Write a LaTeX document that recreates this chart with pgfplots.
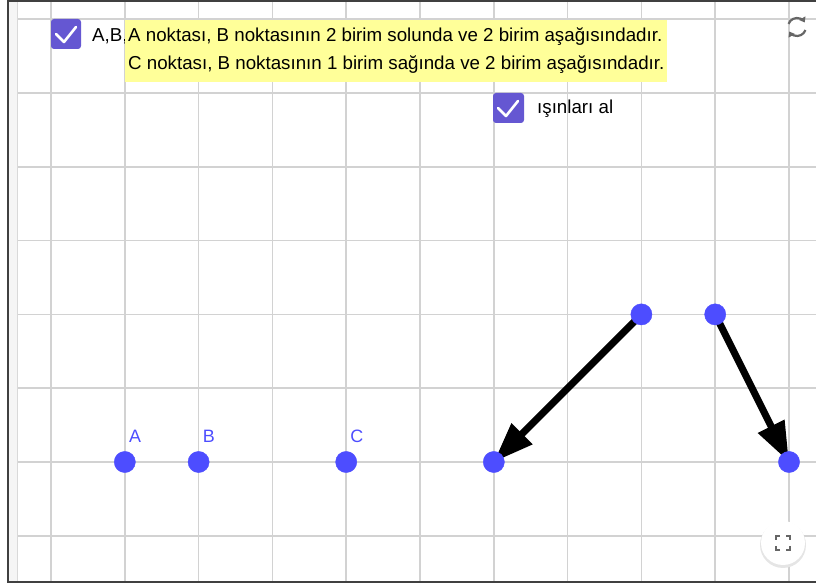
\documentclass[border=0pt]{standalone}
\usepackage{pgfplots}
\pgfplotsset{compat=1.18}
\usepackage{fontspec}
\setmainfont{Liberation Sans}
\usetikzlibrary{arrows.meta}
\definecolor{ggblue}{RGB}{77,77,255}
\definecolor{ggpurple}{RGB}{101,87,210}
\definecolor{gridgray}{RGB}{210,210,210}
\definecolor{noteyellow}{RGB}{255,255,153}
\definecolor{iconGray}{RGB}{102,102,102}
\pgfplotstableread{
x y
1 0
2 0
4 0
6 0
8 2
9 2
10 0
}\points
\begin{document}
\begin{tikzpicture}
\begin{axis}[
  scale only axis, width=816bp, height=585bp,
  xmin=-0.69106, xmax=10.36585, ymin=-1.66667, ymax=6.26016,
  xtick={0,...,10}, ytick={-1,...,6},
  xticklabels={}, yticklabels={},
  major tick length=0pt,
  grid=major, major grid style={gridgray, line width=1.5bp},
  axis line style={draw=none},
  clip=false,
]
\addplot[black, line width=7bp, -{Triangle[length=40bp,width=28bp]}] coordinates {(8,2) (6,0)};
\addplot[black, line width=7bp, -{Triangle[length=40bp,width=28bp]}] coordinates {(9,2) (10,0)};
\addplot[only marks, mark=*, mark size=10.6bp, mark options={fill=ggblue, draw=ggblue}] table {\points};
\node[anchor=base west, text=ggblue, font=\fontsize{18}{20}\selectfont, inner sep=0pt] at ([xshift=4bp,yshift=19bp]axis cs:1,0) {A};
\node[anchor=base west, text=ggblue, font=\fontsize{18}{20}\selectfont, inner sep=0pt] at ([xshift=4bp,yshift=19bp]axis cs:2,0) {B};
\node[anchor=base west, text=ggblue, font=\fontsize{18}{20}\selectfont, inner sep=0pt] at ([xshift=4bp,yshift=19bp]axis cs:4,0) {C};
\end{axis}
\begin{scope}[shift={(current axis.north west)}, x=1bp, y=-1bp]
  % frame
  \fill[white] (0,0) rectangle (8,585);
  \fill[black!4] (8,1) rectangle (17,582);
  \draw[black!15, line width=0.8bp] (17,1) -- (17,582);
  \fill[white] (0,582) rectangle (816,585);
  \draw[black!75, line width=1.6bp] (816,1) -- (8,1) -- (8,582) -- (816,582);
  % checkbox 1
  \fill[ggpurple, rounded corners=3bp] (51,19) rectangle (81,49);
  \draw[white, line width=2.6bp, line cap=round, line join=round] (56,34) -- (64,42) -- (76,27);
  \node[anchor=base west, inner sep=0pt, font=\fontsize{18.8}{22}\selectfont] at (92,42) {A,B,C};
  % yellow note
  \fill[noteyellow] (125,20) rectangle (667,82);
  \node[anchor=base west, inner sep=0pt, font=\fontsize{18.8}{22}\selectfont] at (128,42) {A noktası, B noktasının 2 birim solunda ve 2 birim aşağısındadır.};
  \node[anchor=base west, inner sep=0pt, font=\fontsize{18.8}{22}\selectfont] at (128,70) {C noktası, B noktasının 1 birim sağında ve 2 birim aşağısındadır.};
  % checkbox 2
  \fill[ggpurple, rounded corners=3bp] (493,93) rectangle (524,123);
  \draw[white, line width=2.6bp, line cap=round, line join=round] (498,108) -- (506,116) -- (518,101);
  \node[anchor=base west, inner sep=0pt, font=\fontsize{18.8}{22}\selectfont] at (537,114) {ışınları al};
  % refresh icon
  \draw[iconGray, line width=2.2bp, -{Triangle[length=5bp,width=7bp]}] (797,27) ++(200:9) arc[start angle=200, end angle=330, radius=9];
  \draw[iconGray, line width=2.2bp, -{Triangle[length=5bp,width=7bp]}] (797,27) ++(20:9) arc[start angle=20, end angle=150, radius=9];
  % fullscreen button
  \fill[black!10] (783,545) circle[radius=23];
  \fill[white] (783,543) circle[radius=22];
  \draw[iconGray, line width=2bp] (776,540) -- (776,536) -- (780,536);
  \draw[iconGray, line width=2bp] (786,536) -- (790,536) -- (790,540);
  \draw[iconGray, line width=2bp] (790,546) -- (790,550) -- (786,550);
  \draw[iconGray, line width=2bp] (780,550) -- (776,550) -- (776,546);
\end{scope}
\pgfresetboundingbox
\path (current axis.south west) rectangle (current axis.north east);
\end{tikzpicture}
\end{document}
